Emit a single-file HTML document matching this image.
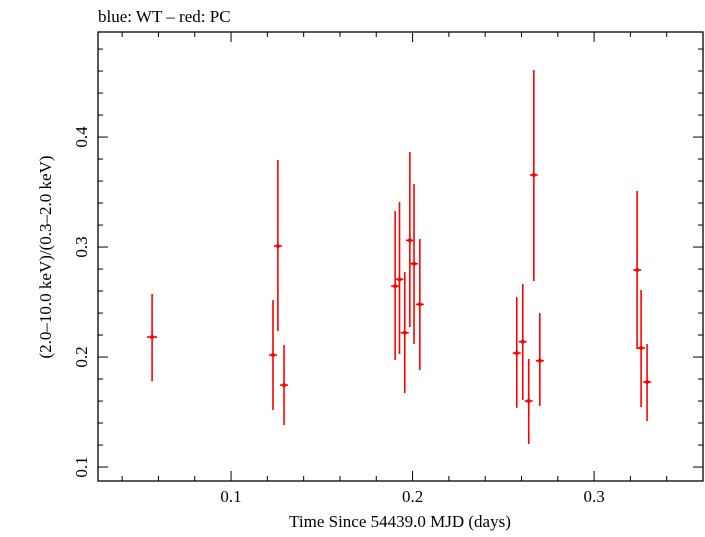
<!DOCTYPE html>
<html><head><meta charset="utf-8"><style>
body{margin:0;background:#fff}
svg text{font-family:"Liberation Serif",serif;fill:#000}
</style></head><body>
<svg id="c" width="705" height="532">
<text x="98" y="22" font-size="17">blue: WT – red: PC</text>
<g id="axes"></g><g id="marks"></g>
<text x="400" y="527" font-size="17" text-anchor="middle">Time Since 54439.0 MJD (days)</text>
<text transform="translate(51,257) rotate(-90)" font-size="17" text-anchor="middle">(2.0–10.0 keV)/(0.3–2.0 keV)</text>
</svg>
<script>
const times=[0.0565,0.1231,0.1258,0.1292,0.1904,0.1928,0.1957,0.1985,0.2008,0.2040,0.2574,0.2607,0.2640,0.2668,0.2701,0.3237,0.3259,0.3292];
const ratios=[0.2182,0.2018,0.3009,0.1745,0.2645,0.2706,0.2221,0.3061,0.2848,0.2479,0.2036,0.2139,0.1600,0.3655,0.1966,0.2791,0.2082,0.1773];
const ratioLo=[0.178,0.1518,0.2236,0.1382,0.1973,0.2027,0.1673,0.2273,0.2118,0.1882,0.1539,0.1609,0.1209,0.2691,0.1555,0.2073,0.1545,0.1418];
const ratioHi=[0.2573,0.2518,0.3791,0.2109,0.3327,0.3409,0.2773,0.3864,0.3573,0.3073,0.2545,0.2664,0.1982,0.4609,0.2400,0.3509,0.2609,0.2118];
const timeErr=[0.0028,0.0022,0.0022,0.0022,0.0022,0.0022,0.0022,0.0022,0.0022,0.0022,0.0022,0.0022,0.0022,0.0022,0.0022,0.0022,0.0022,0.0022];
const xTicks=[0.1,0.2,0.3];
const yTicks=[0.1,0.2,0.3,0.4];
const NS="http://www.w3.org/2000/svg";
const L=98,R=703,T=32,B=481;
const xMin=0.0267,xMax=0.36,yMin=0.0873,yMax=0.4955;
const X=v=>L+(v-xMin)/(xMax-xMin)*(R-L);
const Y=v=>B-(v-yMin)/(yMax-yMin)*(B-T);
const ax=document.getElementById('axes'),mk=document.getElementById('marks');
function el(t,a,p){const e=document.createElementNS(NS,t);for(const k in a)e.setAttribute(k,a[k]);p.appendChild(e);return e;}
const fr=el('rect',{x:L,y:T,width:R-L,height:B-T,fill:'none',stroke:'#000','stroke-width':1.3},ax);


for(let i=2;i<=18;i++){const v=i*0.02;if(v<xMin||v>xMax)continue;const major=Math.abs(v*10-Math.round(v*10))<1e-6;const len=major?10:5;const x=X(v);
 el('line',{x1:x,x2:x,y1:B,y2:B-len,stroke:'#000'},ax);el('line',{x1:x,x2:x,y1:T,y2:T+len,stroke:'#000'},ax);}
for(let i=5;i<=24;i++){const v=i*0.02;if(v<yMin||v>yMax)continue;const major=Math.abs(v*10-Math.round(v*10))<1e-6;const len=major?10:5;const y=Y(v);
 el('line',{x1:L,x2:L+len,y1:y,y2:y,stroke:'#000'},ax);el('line',{x1:R,x2:R-len,y1:y,y2:y,stroke:'#000'},ax);}
xTicks.forEach(v=>{const t=el('text',{x:X(v),y:B+21,'font-size':17,'text-anchor':'middle'},ax);t.textContent=v.toFixed(1);
 
 });
yTicks.forEach(v=>{const t=el('text',{transform:`translate(87,${Y(v)}) rotate(-90)`,'font-size':17,'text-anchor':'middle'},ax);t.textContent=v.toFixed(1);
 
 });
times.forEach((t,i)=>{const g=el('g',{},mk);
 
 
 const x=X(t),y=Y(ratios[i]);
 el('line',{x1:x,x2:x,y1:Y(ratioHi[i]),y2:Y(ratioLo[i]),stroke:'#f00','stroke-width':1.6},g);
 el('line',{x1:X(t-timeErr[i]),x2:X(t+timeErr[i]),y1:y,y2:y,stroke:'#f00','stroke-width':1.6},g);
 el('circle',{cx:x,cy:y,r:2,fill:'#f00'},g);});
</script>
</body></html>
